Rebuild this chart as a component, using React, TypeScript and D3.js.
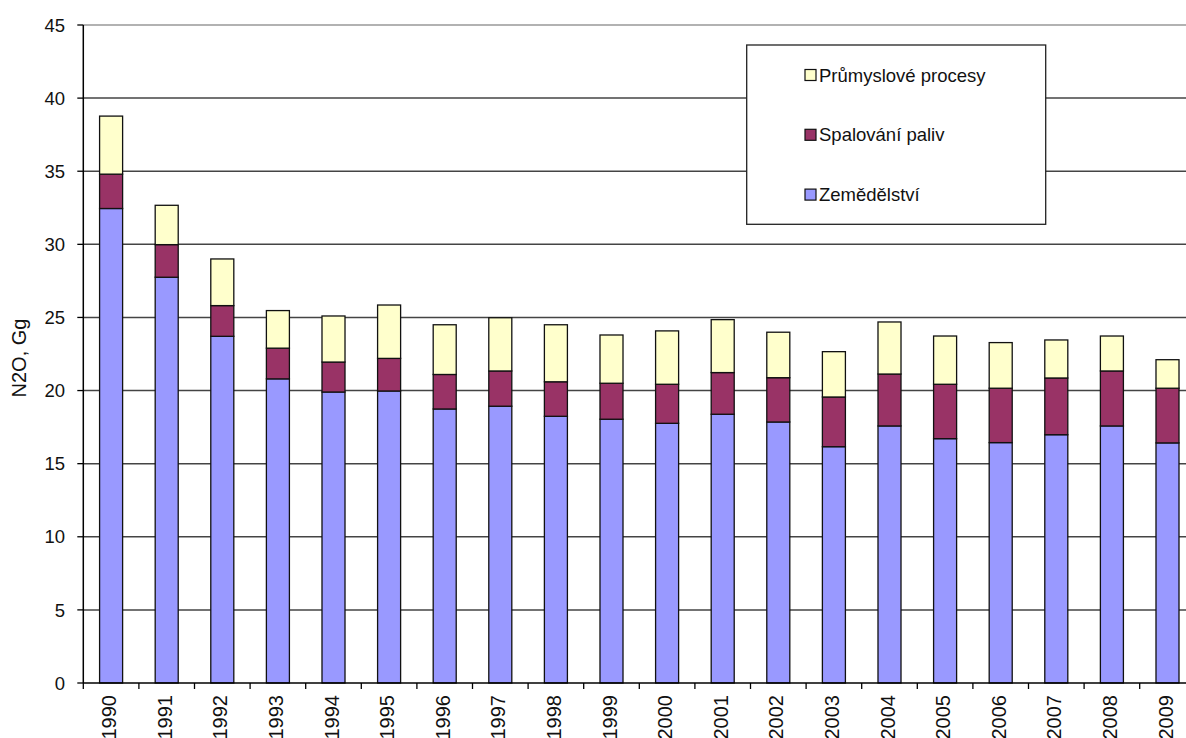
import React from "react";
import * as d3 from "d3";

const years = ["1990","1991","1992","1993","1994","1995","1996","1997","1998","1999","2000","2001","2002","2003","2004","2005","2006","2007","2008","2009"];
const zemedelstvi = [32.45, 27.75, 23.71, 20.8, 19.9, 19.97, 18.74, 18.93, 18.24, 18.04, 17.76, 18.38, 17.85, 16.16, 17.58, 16.71, 16.44, 16.98, 17.58, 16.42];
const spalovani = [2.35, 2.23, 2.10, 2.10, 2.05, 2.23, 2.36, 2.41, 2.36, 2.46, 2.67, 2.85, 3.03, 3.40, 3.55, 3.72, 3.72, 3.88, 3.76, 3.74];
const prumysl = [3.97, 2.69, 3.19, 2.57, 3.15, 3.65, 3.4, 3.64, 3.9, 3.3, 3.65, 3.62, 3.11, 3.10, 3.56, 3.30, 3.12, 2.60, 2.39, 1.95];
const yTicks = [0, 5, 10, 15, 20, 25, 30, 35, 40, 45];
const seriesKeys = ["zem", "spal", "prum"];
const seriesNames = ["Zemědělství", "Spalování paliv", "Průmyslové procesy"];
const seriesColors = ["#9999FF", "#993366", "#FFFFCC"];

export default function App() {
  const W = 1186, H = 738;
  const left = 83.3, right = 1195.3, top = 25, bottom = 683;
  const font = "'Liberation Sans', Arial, sans-serif";

  const rows = years.map((y, i) => ({ year: y, zem: zemedelstvi[i], spal: spalovani[i], prum: prumysl[i] }));
  const stacked = d3.stack<any>().keys(seriesKeys)(rows);

  const x = d3.scaleBand().domain(years).range([left, right]).paddingInner(0.586).paddingOuter(0.293);
  const y = d3.scaleLinear().domain([0, 45]).range([bottom, top]);
  const step = x.step();

  const legendItems = [2, 1, 0];

  return (
    <svg width={W} height={H} style={{ position: "absolute", left: 0, top: 0, background: "#fff" }} fontFamily={font}>
      {yTicks.filter(t => t > 0).map(t => (
        <line key={"g" + t} x1={left} x2={W} y1={y(t)} y2={y(t)} stroke={t === 45 ? "#999" : "#444"} strokeWidth={1.5} />
      ))}
      {stacked.map((s, si) => (
        <g key={seriesKeys[si]}>
          {s.map((d, i) => (
            <rect key={i} x={x(years[i])} y={y(d[1])} width={x.bandwidth()} height={y(d[0]) - y(d[1])}
              fill={seriesColors[si]} stroke="#111" strokeWidth={1.3} />
          ))}
        </g>
      ))}
      <line x1={left} x2={left} y1={top} y2={bottom} stroke="#000" strokeWidth={1.5} />
      <line x1={left} x2={W} y1={bottom} y2={bottom} stroke="#000" strokeWidth={1.5} />
      {yTicks.map(t => (
        <g key={"t" + t}>
          <line x1={left - 6} x2={left} y1={y(t)} y2={y(t)} stroke="#000" strokeWidth={1.3} />
          <text x={65} y={y(t)} dy="0.36em" textAnchor="end" fontSize={18.5} fill="#111">{t}</text>
        </g>
      ))}
      {years.map((yr, i) => (
        <line key={"xt" + yr} x1={left + i * step} x2={left + i * step} y1={bottom} y2={bottom + 6} stroke="#000" strokeWidth={1.3} />
      ))}
      {years.map(yr => {
        const cx = (x(yr) as number) + x.bandwidth() / 2;
        return (
          <text key={"xl" + yr} transform={`translate(${cx + 5},${695}) rotate(-90)`} textAnchor="end" fontSize={20} fill="#111">{yr}</text>
        );
      })}
      <text transform={`translate(${25.5},${358}) rotate(-90)`} textAnchor="middle" fontSize={20} fill="#111">N2O, Gg</text>
      <rect x={746.7} y={45} width={299} height={179.3} fill="#fff" stroke="#222" strokeWidth={1.3} />
      {legendItems.map((si, k) => {
        const cy = 75 + k * 59.8;
        return (
          <g key={"l" + si}>
            <rect x={805} y={cy - 5.5} width={11} height={11} fill={seriesColors[si]} stroke="#111" strokeWidth={1.2} />
            <text x={819} y={cy} dy="0.36em" fontSize={18.5} fill="#111">{seriesNames[si]}</text>
          </g>
        );
      })}
    </svg>
  );
}
